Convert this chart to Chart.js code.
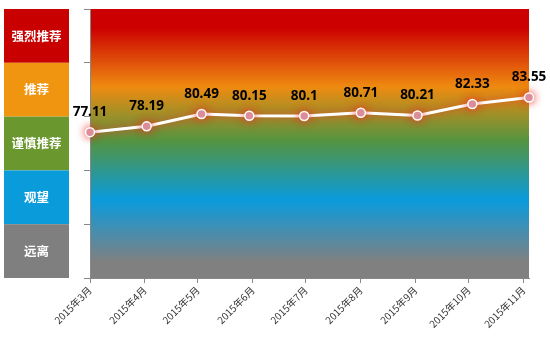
<!DOCTYPE html>
<html>
<head>
<meta charset="utf-8">
<script src="https://cdn.jsdelivr.net/npm/chart.js@4/dist/chart.umd.min.js"></script>
<style>
  html, body { margin: 0; padding: 0; background: #fff; }
  #wrap { width: 550px; height: 342px; }
</style>
</head>
<body>
<div id="wrap"><canvas id="chart" width="550" height="342"></canvas></div>
<script>
// data
const monthLabels = ['2015年3月', '2015年4月', '2015年5月', '2015年6月', '2015年7月', '2015年8月', '2015年9月', '2015年10月', '2015年11月'];
const monthStarts = ['2015-03-01', '2015-04-01', '2015-05-01', '2015-06-01', '2015-07-01', '2015-08-01', '2015-09-01', '2015-10-01', '2015-11-01'];
const pointDates = ['2015-03-01', '2015-04-02', '2015-05-03', '2015-05-30', '2015-06-30', '2015-08-01', '2015-09-02', '2015-10-03', '2015-11-04'];
const scores = [77.11, 78.19, 80.49, 80.15, 80.1, 80.71, 80.21, 82.33, 83.55];

const bandNames = ['强烈推荐', '推荐', '谨慎推荐', '观望', '远离'];
const bandFrom = [90, 80, 70, 60, 50];
const bandTo = [100, 90, 80, 70, 60];
const bandColors = ['#C90000', '#F0950F', '#6B982E', '#0A9BDB', '#7F7F7F'];

// days since first month start (linear x axis, no date adapter)
const dayOf = s => (Date.parse(s) - Date.parse(monthStarts[0])) / 86400000;
const tickDays = monthStarts.map(dayOf);
const points = pointDates.map((d, i) => ({ x: dayOf(d), y: scores[i] }));

// gradient background of the plot + label boxes on the left
const bandPlugin = {
  id: 'bands',
  beforeDraw(chart) {
    const { ctx, chartArea: a, scales: { y } } = chart;
    ctx.save();
    const g = ctx.createLinearGradient(0, a.top, 0, a.bottom);
    g.addColorStop(0, '#CC0000');
    g.addColorStop(0.07, '#CC0000');
    g.addColorStop(0.29, '#EE8B10');
    g.addColorStop(0.49, '#549440');
    g.addColorStop(0.71, '#0A9BDD');
    g.addColorStop(0.94, '#808080');
    g.addColorStop(1, '#808080');
    ctx.fillStyle = g;
    ctx.fillRect(a.left, a.top, a.right - a.left, a.bottom - a.top);

    ctx.font = 'bold 12.5px "Noto Sans CJK SC", sans-serif';
    ctx.textAlign = 'center';
    ctx.textBaseline = 'middle';
    bandNames.forEach((name, i) => {
      const top = y.getPixelForValue(bandTo[i]);
      const bot = y.getPixelForValue(bandFrom[i]);
      ctx.fillStyle = bandColors[i];
      ctx.fillRect(4, top, 65, bot - top);
      ctx.fillStyle = '#fff';
      ctx.fillText(name, 36.5, (top + bot) / 2);
    });
    ctx.restore();
  }
};

// glow under line and markers
const glowPlugin = {
  id: 'glow',
  beforeDatasetDraw(chart) {
    const ctx = chart.ctx;
    ctx.save();
    ctx.shadowColor = 'rgba(235, 50, 40, 0.9)';
    ctx.shadowBlur = 8;
  },
  afterDatasetDraw(chart) {
    chart.ctx.restore();
  }
};

// value labels above points
const valueLabels = {
  id: 'valueLabels',
  afterDatasetsDraw(chart) {
    const { ctx } = chart;
    const meta = chart.getDatasetMeta(0);
    ctx.save();
    ctx.font = 'bold 13.5px "Noto Sans", sans-serif';
    ctx.fillStyle = '#000';
    ctx.textAlign = 'center';
    ctx.textBaseline = 'middle';
    meta.data.forEach((pt, i) => {
      ctx.fillText(String(scores[i]), pt.x, pt.y - 20);
    });
    ctx.restore();
  }
};

new Chart(document.getElementById('chart'), {
  type: 'line',
  data: {
    datasets: [{
      data: points,
      borderColor: '#ffffff',
      borderWidth: 3,
      tension: 0,
      pointRadius: 4.5,
      pointBackgroundColor: '#D9A1B0',
      pointBorderColor: '#ffffff',
      pointBorderWidth: 1.5,
      clip: false
    }]
  },
  options: {
    responsive: false,
    animation: false,
    layout: { padding: { top: 9, right: 21, left: 0, bottom: 0 } },
    plugins: { legend: { display: false }, tooltip: { enabled: false } },
    scales: {
      x: {
        type: 'linear',
        min: tickDays[0],
        max: dayOf(pointDates[pointDates.length - 1]),
        afterBuildTicks: s => { s.ticks = tickDays.map(v => ({ value: v })); },
        afterFit: s => { s.height = 64; },
        ticks: {
          autoSkip: false,
          minRotation: 45,
          maxRotation: 45,
          color: '#333',
          font: { family: '"Noto Sans CJK SC", sans-serif', size: 10 },
          padding: 1,
          callback: v => monthLabels[tickDays.indexOf(v)]
        },
        grid: { drawOnChartArea: false, drawTicks: true, tickLength: 5, color: '#888' },
        border: { display: true, color: '#888' }
      },
      y: {
        min: 50,
        max: 100,
        afterFit: s => { s.width = 90; },
        ticks: { stepSize: 10, display: false },
        grid: { drawOnChartArea: false, drawTicks: true, tickLength: 6, color: '#888' },
        border: { display: true, color: '#888' }
      }
    }
  },
  plugins: [bandPlugin, glowPlugin, valueLabels]
});
</script>
</body>
</html>
